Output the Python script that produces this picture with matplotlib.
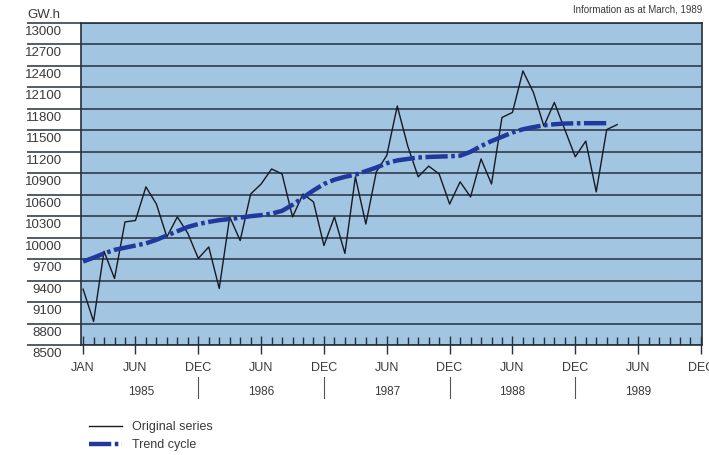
import matplotlib
matplotlib.use('Agg')
import matplotlib.pyplot as plt
import matplotlib.transforms as mtransforms
import numpy as np

plt.rcParams['font.family'] = ['Liberation Sans', 'DejaVu Sans']

# monthly values, month 0 = Jan 1985
original = [9280, 8830, 9810, 9430, 10220, 10240, 10710, 10470, 10010, 10290,
            10060, 9710, 9870, 9290, 10290, 9960, 10610, 10750, 10960, 10890,
            10290, 10610, 10500, 9890, 10290, 9780, 10850, 10190, 10920, 11150,
            11840, 11280, 10850, 11000, 10890, 10470, 10780, 10570, 11100, 10750,
            11680, 11750, 12330, 12030, 11560, 11890, 11510, 11130, 11350, 10640,
            11510, 11580]
trend = [9667, 9720, 9780, 9830, 9860, 9890, 9920, 9970, 10030, 10090,
         10150, 10190, 10220, 10245, 10260, 10280, 10300, 10315, 10335, 10375,
         10460, 10560, 10660, 10750, 10810, 10850, 10880, 10930, 10980, 11040,
         11080, 11100, 11120, 11128, 11133, 11138, 11145, 11200, 11280, 11350,
         11410, 11470, 11515, 11545, 11570, 11585, 11595, 11598, 11600, 11600,
         11600]

month_ticks = [0, 5, 11, 17, 23, 29, 35, 41, 47, 53, 59]
month_labels = ['JAN', 'JUN', 'DEC', 'JUN', 'DEC', 'JUN', 'DEC', 'JUN', 'DEC', 'JUN', 'DEC']
years = ['1985', '1986', '1987', '1988', '1989']
year_pos = [5.5, 17, 29, 41, 53]
year_sep = [11, 23, 35, 47]
yticks = list(range(8500, 13001, 300))

bg = '#a2c5e2'
gridc = '#263040'
textc = '#3a3a3a'
trendc = '#1f3a9c'

fig = plt.figure(figsize=(7.09, 4.55), dpi=100)
fig.patch.set_facecolor('white')
ax = fig.add_axes([81 / 709, 1 - 345 / 455, 621 / 709, 322 / 455])
ax.set_facecolor(bg)

x_orig = np.arange(len(original))
x_trend = np.arange(len(trend))
l1, = ax.plot(x_orig, original, color='#161a22', lw=1.0, label='Original series', zorder=4)
l2, = ax.plot(x_trend, trend, color=trendc, lw=3.2, linestyle=(0, (5, 0.8, 0.8, 0.8)),
              label='Trend cycle', zorder=5)

ax.set_xlim(-0.2, 59.1)
ax.set_ylim(8500, 13000)

# horizontal grid
ax.set_yticks(yticks)
ax.yaxis.grid(True, color=gridc, lw=1.1)
ax.set_axisbelow(True)
ax.tick_params(axis='y', length=38.9, width=1.1, color=gridc, direction='out', labelleft=False)

trans = mtransforms.blended_transform_factory(ax.transAxes, ax.transData)
trans = trans + mtransforms.ScaledTranslation(0, -9 / 100, fig.dpi_scale_trans)
for v in yticks:
    ax.text(-0.031, v, str(v), transform=trans, ha='right', va='center',
            fontsize=9.5, color=textc)

# x ticks
ax.set_xticks(month_ticks)
ax.set_xticklabels(month_labels)
ax.set_xticks(np.arange(0, 60), minor=True)
ax.tick_params(axis='x', which='major', direction='inout', length=13, width=1.0,
               color=gridc, pad=6, labelsize=9, labelcolor=textc)
ax.tick_params(axis='x', which='minor', direction='in', length=6, width=1.0, color=gridc)

for s in ax.spines.values():
    s.set_color(gridc)
    s.set_linewidth(1.2)

# year labels and separators
tx = mtransforms.blended_transform_factory(ax.transData, ax.transAxes)
for p, yr in zip(year_pos, years):
    ax.text(p, -0.145, yr, transform=tx, ha='center', va='center', fontsize=8.5, color=textc)
for p in year_sep:
    ax.plot([p, p], [-0.099, -0.165], transform=tx, color='#555555', lw=0.8, clip_on=False)

fig.text(27 / 709, 1 - 15 / 455, 'GW.h', ha='left', va='center', fontsize=9.5, color=textc)
fig.text(702 / 709, 1 - 10 / 455, 'Information as at March, 1989', ha='right', va='center',
         fontsize=7, color=textc)

fig.legend(handles=[l1, l2], loc='upper left', bbox_to_anchor=(78 / 709, 1 - 410 / 455),
           bbox_transform=fig.transFigure, frameon=False, fontsize=9, handlelength=2.6,
           labelspacing=0.45, handletextpad=0.8, labelcolor=textc)

plt.savefig('out.png', dpi=100)
plt.close(fig)
